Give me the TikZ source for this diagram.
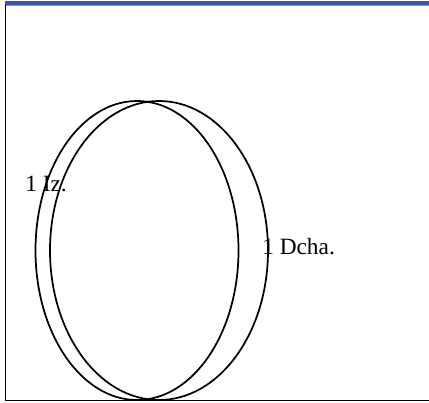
\documentclass[tikz,border=0pt]{standalone}
\usepackage{fontspec}
\setmainfont{Liberation Serif}
\usepackage{xcolor}
\usepackage{tikz}
\usetikzlibrary{positioning}
\definecolor{barblue}{HTML}{3A56A6}
\definecolor{barshade}{HTML}{8A93A8}
\tikzset{
  rim/.style={draw=black, line width=1.3pt},
  frameline/.style={draw=black, line width=1.3pt},
  topbar/.style={draw=barblue, line width=2.4pt},
  sidelabel/.style={font=\fontsize{17.5}{20}\selectfont, anchor=base west, inner sep=0pt},
}
\def\yMid{250.5}
\def\ry{149.5}
\begin{document}
\begin{tikzpicture}[x=0.75pt,y=-0.75pt]
  \useasboundingbox (0,0) rectangle (429,403);
  % frame
  \draw[topbar] (5,3) -- (429,3);
  \draw[draw=barshade, line width=0.6pt] (5,5.2) -- (429,5.2);
  \draw[frameline] (5.5,5) -- (5.5,400.5) -- (429,400.5);
  % the two ellipses
  \draw[rim] (137,\yMid) ellipse [x radius=101.5, y radius=\ry];
  \draw[rim] (159,\yMid) ellipse [x radius=109, y radius=\ry];
  % labels
  \node[sidelabel] (iz) at (25,191) {1 Iz.};
  \node[sidelabel] (dcha) at (262,254) {1 Dcha.};
\end{tikzpicture}
\end{document}
